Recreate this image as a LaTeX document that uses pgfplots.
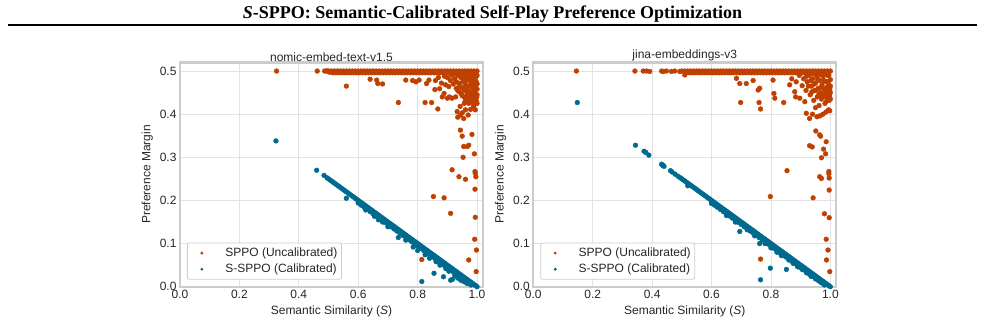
\documentclass[border=0pt]{standalone}
\usepackage{fontspec}
\setmainfont{Liberation Sans}
\newfontfamily\titlefont{Liberation Serif}
\usepackage{pgfplots}
\usepackage{pgfplotstable}
\pgfplotsset{compat=1.18}

\definecolor{sppo}{RGB}{191,64,0}
\definecolor{ssppo}{RGB}{0,106,142}
\definecolor{gridgray}{RGB}{226,226,226}
\definecolor{spinegray}{RGB}{204,204,204}
\definecolor{txt}{RGB}{38,38,38}

% Saturated SPPO margins (shared upper band)
\pgfplotstableread{
x y
0.51 0.500
0.52 0.500
0.53 0.500
0.54 0.500
0.55 0.500
0.56 0.500
0.57 0.500
0.58 0.500
0.59 0.500
0.60 0.500
0.61 0.500
0.62 0.500
0.63 0.500
0.64 0.500
0.65 0.500
0.66 0.500
0.67 0.500
0.68 0.500
0.69 0.500
0.70 0.500
0.71 0.500
0.72 0.500
0.73 0.500
0.74 0.500
0.75 0.500
0.76 0.500
0.77 0.500
0.78 0.500
0.79 0.500
0.80 0.500
0.81 0.500
0.82 0.500
0.83 0.500
0.84 0.500
0.85 0.500
0.86 0.500
0.87 0.500
0.88 0.500
0.89 0.500
0.90 0.500
0.91 0.500
0.92 0.500
0.93 0.500
0.94 0.500
0.95 0.500
0.96 0.500
0.97 0.500
0.98 0.500
0.99 0.500
1.00 0.500
0.515 0.496
0.525 0.496
0.535 0.496
0.545 0.496
0.555 0.496
0.565 0.496
0.575 0.496
0.585 0.496
0.595 0.496
0.605 0.496
0.615 0.496
0.625 0.496
0.635 0.496
0.645 0.496
0.655 0.496
0.665 0.496
0.675 0.496
0.685 0.496
0.695 0.496
0.705 0.496
0.715 0.496
0.725 0.496
0.735 0.496
0.745 0.496
0.755 0.496
0.765 0.496
0.775 0.496
0.785 0.496
0.795 0.496
0.805 0.496
0.815 0.496
0.825 0.496
0.835 0.496
0.845 0.496
0.855 0.496
0.865 0.496
0.875 0.496
0.885 0.496
0.895 0.496
0.905 0.496
0.915 0.496
0.925 0.496
0.935 0.496
0.945 0.496
0.955 0.496
0.965 0.496
0.975 0.496
0.985 0.496
0.995 0.496
}\bandtable

% Calibrated margins on the line m = (1 - S)/2
\pgfplotstableread{
x y
0.495 0.2525
0.500 0.2500
0.505 0.2475
0.510 0.2450
0.515 0.2425
0.520 0.2400
0.525 0.2375
0.530 0.2350
0.535 0.2325
0.540 0.2300
0.545 0.2275
0.550 0.2250
0.555 0.2225
0.560 0.2200
0.565 0.2175
0.570 0.2150
0.575 0.2125
0.580 0.2100
0.585 0.2075
0.590 0.2050
0.595 0.2025
0.600 0.2000
0.605 0.1975
0.610 0.1950
0.615 0.1925
0.620 0.1900
0.625 0.1875
0.630 0.1850
0.635 0.1825
0.640 0.1800
0.645 0.1775
0.650 0.1750
0.655 0.1725
0.660 0.1700
0.665 0.1675
0.670 0.1650
0.675 0.1625
0.680 0.1600
0.685 0.1575
0.690 0.1550
0.695 0.1525
0.700 0.1500
0.705 0.1475
0.710 0.1450
0.715 0.1425
0.720 0.1400
0.725 0.1375
0.730 0.1350
0.735 0.1325
0.740 0.1300
0.745 0.1275
0.750 0.1250
0.755 0.1225
0.760 0.1200
0.765 0.1175
0.770 0.1150
0.775 0.1125
0.780 0.1100
0.785 0.1075
0.790 0.1050
0.795 0.1025
0.800 0.1000
0.805 0.0975
0.810 0.0950
0.815 0.0925
0.820 0.0900
0.825 0.0875
0.830 0.0850
0.835 0.0825
0.840 0.0800
0.845 0.0775
0.850 0.0750
0.855 0.0725
0.860 0.0700
0.865 0.0675
0.870 0.0650
0.875 0.0625
0.880 0.0600
0.885 0.0575
0.890 0.0550
0.895 0.0525
0.900 0.0500
0.905 0.0475
0.910 0.0450
0.915 0.0425
0.920 0.0400
0.925 0.0375
0.930 0.0350
0.935 0.0325
0.940 0.0300
0.945 0.0275
0.950 0.0250
0.955 0.0225
0.960 0.0200
0.965 0.0175
0.970 0.0150
0.975 0.0125
0.980 0.0100
0.985 0.0075
0.990 0.0050
0.995 0.0025
1.000 0.0000
0.60 0.194
0.61 0.189
0.62 0.184
0.63 0.179
0.64 0.174
0.65 0.169
0.66 0.164
0.67 0.159
0.68 0.154
0.69 0.149
0.70 0.144
0.71 0.139
0.72 0.134
0.73 0.129
0.74 0.124
0.75 0.119
0.76 0.114
0.77 0.109
0.78 0.104
0.79 0.099
0.80 0.094
0.81 0.089
0.82 0.084
0.83 0.079
0.84 0.074
0.85 0.069
0.86 0.064
0.87 0.059
0.88 0.054
0.89 0.049
0.90 0.044
0.91 0.039
0.92 0.034
0.93 0.029
0.94 0.024
0.95 0.019
0.96 0.014
0.97 0.009
0.98 0.004
}\linetable

% nomic-embed-text-v1.5: SPPO points off the band
\pgfplotstableread{
x y
0.325 0.500
0.462 0.500
0.487 0.500
0.493 0.500
0.497 0.500
0.500 0.500
0.505 0.497
0.560 0.465
0.640 0.481
0.662 0.479
0.666 0.471
0.682 0.470
0.735 0.427
0.760 0.479
0.783 0.478
0.794 0.475
0.805 0.479
0.830 0.471
0.838 0.479
0.860 0.478
0.825 0.427
0.847 0.427
0.868 0.412
0.870 0.485
0.880 0.472
0.890 0.488
0.858 0.457
0.874 0.459
0.889 0.448
0.894 0.468
0.905 0.464
0.883 0.440
0.900 0.437
0.907 0.440
0.916 0.437
0.928 0.440
0.900 0.485
0.910 0.478
0.915 0.490
0.920 0.470
0.925 0.482
0.930 0.460
0.935 0.490
0.938 0.472
0.940 0.452
0.945 0.485
0.948 0.462
0.950 0.443
0.952 0.475
0.955 0.492
0.958 0.455
0.960 0.430
0.962 0.468
0.965 0.484
0.967 0.447
0.970 0.462
0.972 0.425
0.974 0.491
0.976 0.476
0.978 0.452
0.980 0.437
0.982 0.465
0.984 0.483
0.986 0.445
0.988 0.420
0.990 0.470
0.991 0.490
0.992 0.455
0.994 0.432
0.995 0.478
0.996 0.462
0.997 0.445
0.998 0.488
0.999 0.470
1.000 0.458
0.925 0.495
0.930 0.475
0.935 0.455
0.940 0.490
0.942 0.465
0.946 0.448
0.950 0.485
0.953 0.460
0.956 0.440
0.958 0.475
0.960 0.490
0.963 0.455
0.966 0.437
0.968 0.480
0.970 0.450
0.973 0.495
0.975 0.465
0.977 0.440
0.979 0.485
0.981 0.450
0.983 0.470
0.985 0.495
0.987 0.460
0.989 0.435
0.990 0.480
0.992 0.440
0.993 0.465
0.995 0.445
0.997 0.475
0.998 0.430
1.000 0.490
1.000 0.470
1.000 0.445
1.000 0.425
0.933 0.406
0.935 0.393
0.944 0.398
0.950 0.403
0.955 0.390
0.961 0.410
0.970 0.398
0.978 0.411
0.989 0.416
0.994 0.410
0.943 0.418
0.957 0.425
0.968 0.432
0.985 0.428
0.999 0.440
0.944 0.363
0.950 0.349
0.955 0.325
0.967 0.325
0.972 0.328
0.983 0.353
0.953 0.300
0.991 0.308
0.916 0.271
0.939 0.255
0.961 0.249
0.993 0.267
0.994 0.263
0.996 0.255
0.993 0.226
0.853 0.209
0.889 0.206
0.911 0.170
0.994 0.161
0.992 0.110
0.998 0.085
0.814 0.063
0.972 0.062
0.997 0.035
}\nomicsppo

% nomic-embed-text-v1.5: S-SPPO points off the line
\pgfplotstableread{
x y
0.323 0.338
0.460 0.270
0.485 0.258
0.560 0.205
0.625 0.178
0.655 0.163
0.668 0.155
0.682 0.150
0.700 0.139
0.735 0.114
0.760 0.108
0.785 0.092
0.800 0.084
0.814 0.012
0.825 0.074
0.840 0.066
0.855 0.031
0.862 0.058
0.875 0.050
0.887 0.023
0.895 0.042
0.905 0.036
0.911 0.015
0.917 0.017
0.925 0.026
0.935 0.020
0.945 0.015
0.955 0.012
0.965 0.008
0.975 0.006
}\nomicssppo

% jina-embeddings-v3: SPPO points off the band
\pgfplotstableread{
x y
0.145 0.500
0.342 0.500
0.370 0.500
0.381 0.500
0.392 0.499
0.432 0.500
0.437 0.499
0.448 0.500
0.465 0.499
0.476 0.500
0.493 0.499
0.500 0.500
0.510 0.491
0.684 0.483
0.695 0.471
0.717 0.471
0.740 0.478
0.757 0.456
0.762 0.460
0.698 0.427
0.760 0.427
0.765 0.412
0.807 0.479
0.810 0.448
0.813 0.437
0.843 0.427
0.863 0.468
0.880 0.452
0.883 0.440
0.897 0.437
0.914 0.429
0.919 0.402
0.930 0.390
0.870 0.482
0.885 0.475
0.895 0.490
0.905 0.466
0.910 0.482
0.918 0.455
0.922 0.475
0.928 0.490
0.932 0.445
0.936 0.465
0.940 0.482
0.944 0.432
0.947 0.455
0.950 0.472
0.953 0.490
0.956 0.440
0.959 0.460
0.962 0.420
0.964 0.478
0.967 0.450
0.970 0.435
0.972 0.468
0.975 0.488
0.977 0.445
0.980 0.458
0.982 0.425
0.984 0.476
0.986 0.440
0.988 0.462
0.990 0.490
0.992 0.448
0.994 0.470
0.996 0.432
0.998 0.458
1.000 0.480
0.920 0.488
0.926 0.465
0.934 0.478
0.938 0.452
0.942 0.494
0.946 0.470
0.952 0.455
0.957 0.482
0.961 0.445
0.966 0.492
0.969 0.462
0.973 0.440
0.978 0.478
0.981 0.495
0.983 0.452
0.987 0.430
0.989 0.475
0.993 0.458
0.995 0.490
0.997 0.442
1.000 0.465
1.000 0.450
1.000 0.435
0.955 0.394
0.965 0.396
0.975 0.400
0.985 0.405
0.994 0.410
0.998 0.408
0.940 0.400
0.950 0.415
0.951 0.361
0.967 0.349
0.964 0.352
0.977 0.319
0.970 0.299
0.986 0.336
0.984 0.308
0.930 0.327
0.939 0.324
0.964 0.255
0.970 0.251
0.995 0.267
0.995 0.262
0.996 0.252
0.996 0.224
0.980 0.169
0.996 0.160
0.986 0.110
0.992 0.085
0.987 0.062
0.998 0.035
0.854 0.269
0.798 0.209
0.942 0.206
0.765 0.064
}\jinasppo

% jina-embeddings-v3: S-SPPO points off the line
\pgfplotstableread{
x y
0.148 0.427
0.344 0.328
0.373 0.314
0.379 0.311
0.389 0.305
0.432 0.284
0.434 0.282
0.437 0.281
0.440 0.279
0.462 0.269
0.467 0.266
0.477 0.261
0.487 0.256
0.520 0.234
0.600 0.193
0.650 0.165
0.680 0.150
0.695 0.128
0.720 0.132
0.745 0.118
0.760 0.116
0.762 0.100
0.765 0.016
0.780 0.100
0.798 0.043
0.800 0.090
0.820 0.080
0.835 0.072
0.852 0.040
0.860 0.062
0.875 0.054
0.890 0.046
0.905 0.040
0.920 0.032
0.935 0.024
0.950 0.018
0.965 0.012
0.975 0.008
}\jinassppo

\pgfplotsset{
  panel/.style={
    scale only axis,
    width=303pt, height=224.3pt,
    xmin=0, xmax=1.02, ymin=0, ymax=0.52,
    xtick={0,0.2,0.4,0.6,0.8,1.0},
    ytick={0,0.1,0.2,0.3,0.4,0.5},
    /pgf/number format/assume math mode=true,
    xticklabel={\pgfmathprintnumber[fixed,fixed zerofill,precision=1]{\tick}},
    yticklabel={\pgfmathprintnumber[fixed,fixed zerofill,precision=1]{\tick}},
    tick label style={font=\fontsize{12}{14}\selectfont, text=txt},
    major tick length=0pt,
    grid=major,
    major grid style={gridgray, line width=0.9pt},
    axis line style={spinegray, line width=2.2pt},
    label style={font=\fontsize{12}{14}\selectfont, text=txt},
    xlabel={Semantic Similarity (\textit{S})},
    ylabel={Preference Margin},
    title style={font=\fontsize{12}{14}\selectfont, text=txt, yshift=-8.5pt},
    legend style={at={(0.023,0.031)}, anchor=south west,
      draw=spinegray, line width=0.8pt, rounded corners=2pt,
      fill=white, font=\fontsize{12}{14}\selectfont, text=txt,
      inner xsep=2pt, inner ysep=3pt, row sep=2pt},
    legend cell align=left,
    legend image code/.code={%
      \path[draw=none, fill=none] (0pt,0pt) -- (34pt,0pt);
      \fill[#1, draw=none] (12.5pt,0pt) circle[radius=1.6pt];},
  },
  sppodots/.style={only marks, mark=*, mark size=2.4pt, color=sppo,
    mark options={fill=sppo, draw=none}},
  ssppodots/.style={only marks, mark=*, mark size=2.4pt, color=ssppo,
    mark options={fill=ssppo, draw=none}},
}

\begin{document}
\begin{tikzpicture}
\useasboundingbox (0pt,0pt) rectangle (985pt,324pt);
\node[font=\titlefont\bfseries\fontsize{18}{21}\selectfont] at (492.5pt,310pt)
  {\textit{S}-SPPO: Semantic-Calibrated Self-Play Preference Optimization};
\draw[line width=1.8pt] (8pt,299pt) -- (977pt,299pt);

\begin{axis}[panel, at={(180pt,37.3pt)}, anchor=south west,
  title={nomic-embed-text-v1.5}]
  \addplot[sppodots] table {\bandtable};
  \addlegendentry{SPPO (Uncalibrated)}
  \addplot[sppodots, forget plot] table {\nomicsppo};
  \addplot[ssppodots] table {\linetable};
  \addlegendentry{S-SPPO (Calibrated)}
  \addplot[ssppodots, forget plot] table {\nomicssppo};
\end{axis}

\begin{axis}[panel, at={(533.3pt,37.3pt)}, anchor=south west,
  title={jina-embeddings-v3}]
  \addplot[sppodots] table {\bandtable};
  \addlegendentry{SPPO (Uncalibrated)}
  \addplot[sppodots, forget plot] table {\jinasppo};
  \addplot[ssppodots] table {\linetable};
  \addlegendentry{S-SPPO (Calibrated)}
  \addplot[ssppodots, forget plot] table {\jinassppo};
\end{axis}
\end{tikzpicture}
\end{document}
